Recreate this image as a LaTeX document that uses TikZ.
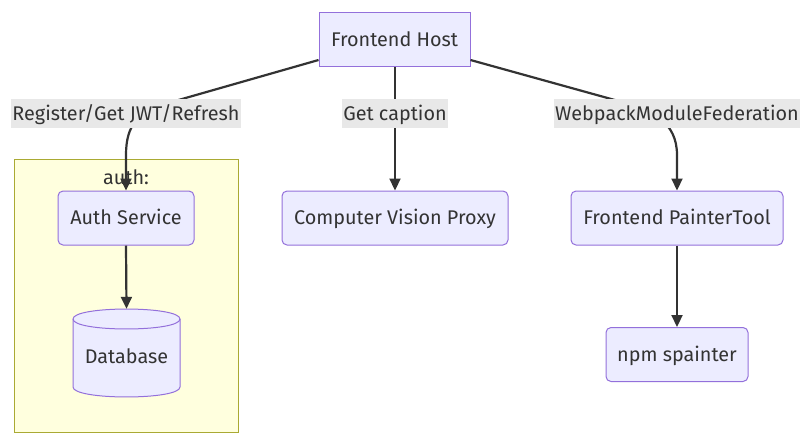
\documentclass[tikz,border=0pt]{standalone}
\usepackage{fontspec}
\setmainfont{Fira Sans}
\usetikzlibrary{arrows.meta}
\definecolor{nodefill}{HTML}{ECECFF}
\definecolor{nodeline}{HTML}{9370DB}
\definecolor{subfill}{HTML}{FFFFDE}
\definecolor{subline}{HTML}{AAAA33}
\definecolor{ink}{HTML}{333333}
\definecolor{lblbg}{HTML}{E8E8E8}
\begin{document}
\begin{tikzpicture}[x=1pt,y=-1pt,
 font=\fontsize{19.8}{23}\selectfont, text=ink,
 every node/.style={text height=14pt, text depth=1pt},
 box/.style={draw=nodeline, fill=nodefill, line width=1pt, rounded corners=5pt, minimum height=54pt, inner sep=0pt},
 sqbox/.style={box, rounded corners=0pt},
 lbl/.style={fill=lblbg, inner xsep=1pt, inner ysep=0pt, minimum height=29pt},
 edge/.style={draw=ink, line width=2.2pt, -{Triangle[length=12pt,width=11pt]}},
 dbshape/.style={draw=nodeline, fill=nodefill, line width=1pt},
]
\useasboundingbox (0,0) rectangle (809,440);
% subgraph
\node[draw=subline, fill=subfill, line width=1pt, minimum width=224pt, minimum height=273pt, inner sep=0pt] (grp) at (126,295.5) {};
\node (grptitle) at (126,178) {auth:};
% nodes
\node[sqbox, minimum width=151pt] (host) at (394.5,39.5) {Frontend Host};
\node[box, minimum width=136pt] (auth) at (126,218) {Auth Service};
\node[box, minimum width=226pt] (cv) at (395,218) {Computer Vision Proxy};
\node[box, minimum width=212pt] (painter) at (677,218) {Frontend PainterTool};
\node[box, minimum width=142pt] (npm) at (677,354.5) {npm spainter};
% database cylinder
\draw[dbshape] (73,319) -- (73,387) .. controls (73,400.3) and (180,400.3) .. (180,387)
  -- (180,319) .. controls (180,305.7) and (73,305.7) .. (73,319) -- cycle;
\draw[dbshape, fill=none] (73,319) .. controls (73,332.3) and (180,332.3) .. (180,319);
\node[minimum width=107pt, minimum height=88pt, inner sep=0pt] (db) at (126.5,353) {};
\node (dbtext) at (126.5,357) {Database};
% edges
\coordinate (hl) at ([yshift=7pt]host.south west);
\coordinate (hr) at ([yshift=7pt]host.south east);
\draw[edge] (hl) -- (168,103) .. controls (138,111.5) and (126,125) .. (126,155) -- (auth.north);
\draw[edge] (host.south -| cv.north) -- (cv.north);
\draw[edge] (hr) -- (622,102) .. controls (652,110) and (677,122) .. (677,155) -- (painter.north);
\draw[edge] (auth.south) -- (db.north);
\draw[edge] (painter.south) -- (npm.north);
% edge labels
\node[lbl] (l1) at (126,113.5) {Register/Get JWT/Refresh};
\node[lbl] (l2) at (395,113.5) {Get caption};
\node[lbl] (l3) at (677,113.5) {WebpackModuleFederation};
\end{tikzpicture}
\end{document}
